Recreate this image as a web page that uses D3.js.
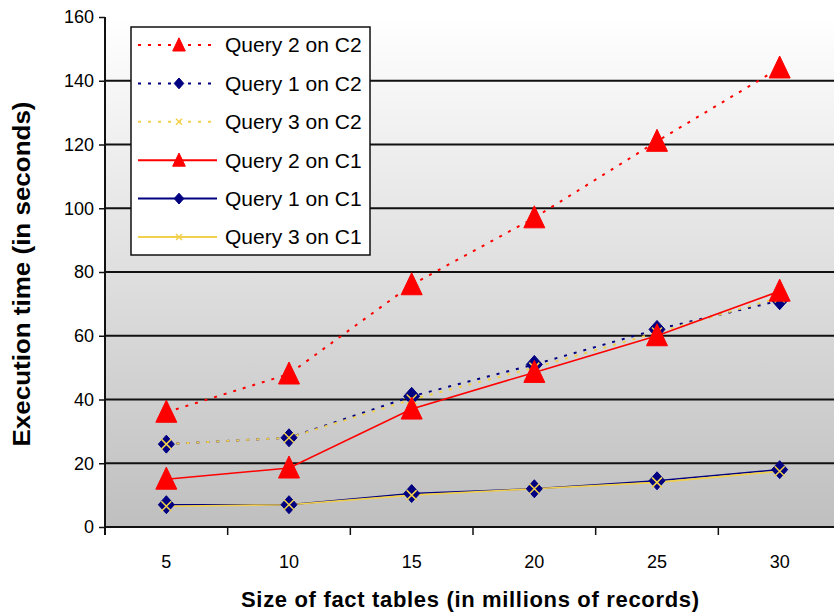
<!DOCTYPE html>
<html>
<head>
<meta charset="utf-8">
<script src="https://cdn.jsdelivr.net/npm/d3@7"></script>
<style>
  html, body { margin: 0; padding: 0; background: #ffffff; }
  svg { display: block; }
  text { font-family: "Liberation Sans", Arial, sans-serif; fill: #000; }
</style>
</head>
<body>
<svg id="chart" width="834" height="615"></svg>
<script>
// Fact table sizes (millions of records)
const categories = [5, 10, 15, 20, 25, 30];
const yTicks = [0, 20, 40, 60, 80, 100, 120, 140, 160];

// Execution times in seconds
const q2c2 = [36, 48, 76, 97, 121, 144];
const q1c2 = [26, 28, 41, 51, 62, 71];
const q3c2 = [26, 28, 40, 50, 61, 72];
const q2c1 = [15, 18.5, 37, 48.5, 60, 74];
const q1c1 = [7, 7, 10.5, 12, 14.5, 18];
const q3c1 = [6.5, 7, 10, 12, 14, 17.5];

const seriesNames = ["Query 2 on C2", "Query 1 on C2", "Query 3 on C2",
                     "Query 2 on C1", "Query 1 on C1", "Query 3 on C1"];

const RED = "#ff0000", NAVY = "#000080", YELLOW = "#f2d04c";
const series = [
  { name: seriesNames[0], values: q2c2, color: RED,    dotted: true,  marker: "triangle" },
  { name: seriesNames[1], values: q1c2, color: NAVY,   dotted: true,  marker: "diamond" },
  { name: seriesNames[2], values: q3c2, color: YELLOW, dotted: true,  marker: "x" },
  { name: seriesNames[3], values: q2c1, color: RED,    dotted: false, marker: "triangle" },
  { name: seriesNames[4], values: q1c1, color: NAVY,   dotted: false, marker: "diamond" },
  { name: seriesNames[5], values: q3c1, color: YELLOW, dotted: false, marker: "x" }
];

const svg = d3.select("#chart");
const plot = { left: 105, right: 841, top: 17, bottom: 527 };

const x = d3.scaleBand().domain(categories).range([plot.left, plot.right]);
const y = d3.scaleLinear().domain([0, 160]).range([plot.bottom, plot.top]);

// Plot background: white at the top fading to grey at the bottom
const defs = svg.append("defs");
const grad = defs.append("linearGradient").attr("id", "bg")
  .attr("x1", 0).attr("y1", 0).attr("x2", 0).attr("y2", 1);
grad.append("stop").attr("offset", "0%").attr("stop-color", "#ffffff");
grad.append("stop").attr("offset", "100%").attr("stop-color", "#bfbfbf");

svg.append("rect")
  .attr("x", plot.left).attr("y", plot.top)
  .attr("width", plot.right - plot.left).attr("height", plot.bottom - plot.top)
  .attr("fill", "url(#bg)");

// Horizontal gridlines
svg.append("g").selectAll("line")
  .data(yTicks.filter(d => d > 0 && d < 160))
  .join("line")
  .attr("x1", plot.left).attr("x2", plot.right)
  .attr("y1", d => y(d)).attr("y2", d => y(d))
  .attr("stroke", "#111").attr("stroke-width", 2);

// Y axis
const yAxis = svg.append("g")
  .attr("transform", `translate(${plot.left},0)`)
  .call(d3.axisLeft(y).tickValues(yTicks).tickSize(6).tickPadding(5));
yAxis.select(".domain").attr("stroke", "#111").attr("stroke-width", 2)
  .attr("d", `M0,${plot.top}V${plot.bottom + 8}`);
yAxis.selectAll(".tick line").attr("stroke", "#111").attr("stroke-width", 1.5);
yAxis.selectAll(".tick text").attr("font-size", 18).attr("fill", "#222")
  .attr("font-family", "Liberation Sans, Arial, sans-serif");

// X axis: ticks sit between categories
const xAxis = svg.append("g")
  .attr("transform", `translate(0,${plot.bottom})`)
  .call(d3.axisBottom(x).tickSize(0).tickPadding(28));
xAxis.select(".domain").attr("stroke", "#111").attr("stroke-width", 2)
  .attr("d", `M${plot.left},0H${plot.right}`);
xAxis.selectAll(".tick text").attr("font-size", 18).attr("fill", "#222")
  .attr("font-family", "Liberation Sans, Arial, sans-serif");
xAxis.append("g").selectAll("line")
  .data(categories.slice(1))
  .join("line")
  .attr("x1", d => x(d)).attr("x2", d => x(d))
  .attr("y1", 0).attr("y2", 8)
  .attr("stroke", "#111").attr("stroke-width", 1.5);

// Axis titles
svg.append("text")
  .attr("x", 470).attr("y", 607)
  .attr("text-anchor", "middle")
  .attr("font-size", 22).attr("font-weight", "bold")
  .attr("textLength", 458)
  .text("Size of fact tables (in millions of records)");

svg.append("text")
  .attr("transform", `translate(30,274) rotate(-90)`)
  .attr("text-anchor", "middle")
  .attr("font-size", 23).attr("font-weight", "bold")
  .attr("textLength", 345).attr("lengthAdjust", "spacingAndGlyphs")
  .text("Execution time (in seconds)");

// Marker shapes
function markerPath(kind, k) {
  if (kind === "triangle") return `M0,${-12 * k}L${10.5 * k},${10 * k}L${-10.5 * k},${10 * k}Z`;
  if (kind === "diamond") return `M0,${-9 * k}L${8 * k},0L0,${9 * k}L${-8 * k},0Z`;
  return `M${-5 * k},${-5 * k}L${5 * k},${5 * k}M${5 * k},${-5 * k}L${-5 * k},${5 * k}`;
}
function drawMarker(g, kind, color, k = 1) {
  const p = g.append("path").attr("d", markerPath(kind, k));
  if (kind === "x") p.attr("fill", "none").attr("stroke", color).attr("stroke-width", 1.5);
  else p.attr("fill", color).attr("stroke", color).attr("stroke-width", 1);
}

const line = d3.line()
  .x((d, i) => x(categories[i]) + x.bandwidth() / 2)
  .y(d => y(d));

// Lines first, then markers on top
const lines = svg.append("g");
series.forEach(s => {
  lines.append("path")
    .attr("d", line(s.values))
    .attr("fill", "none")
    .attr("stroke", s.color)
    .attr("stroke-width", s.dotted ? 2 : 1.6)
    .attr("stroke-dasharray", s.dotted ? "3,7" : null);
});
const markers = svg.append("g");
series.forEach(s => {
  s.values.forEach((v, i) => {
    const g = markers.append("g")
      .attr("transform", `translate(${x(categories[i]) + x.bandwidth() / 2},${y(v)})`);
    drawMarker(g, s.marker, s.color);
  });
});

// Legend
const legend = svg.append("g");
legend.append("rect")
  .attr("x", 131).attr("y", 27).attr("width", 239).attr("height", 228)
  .attr("fill", "#ffffff").attr("stroke", "#111").attr("stroke-width", 1.5);
series.forEach((s, i) => {
  const cy = 45 + i * 38.4;
  legend.append("line")
    .attr("x1", 138).attr("x2", 217).attr("y1", cy).attr("y2", cy)
    .attr("stroke", s.color).attr("stroke-width", 2)
    .attr("stroke-dasharray", s.dotted ? "3,7" : null);
  const g = legend.append("g").attr("transform", `translate(179,${cy})`);
  drawMarker(g, s.marker, s.color, 0.6);
  legend.append("text")
    .attr("x", 225).attr("y", cy).attr("dy", "0.35em")
    .attr("font-size", 21)
    .text(s.name);
});
</script>
</body>
</html>
